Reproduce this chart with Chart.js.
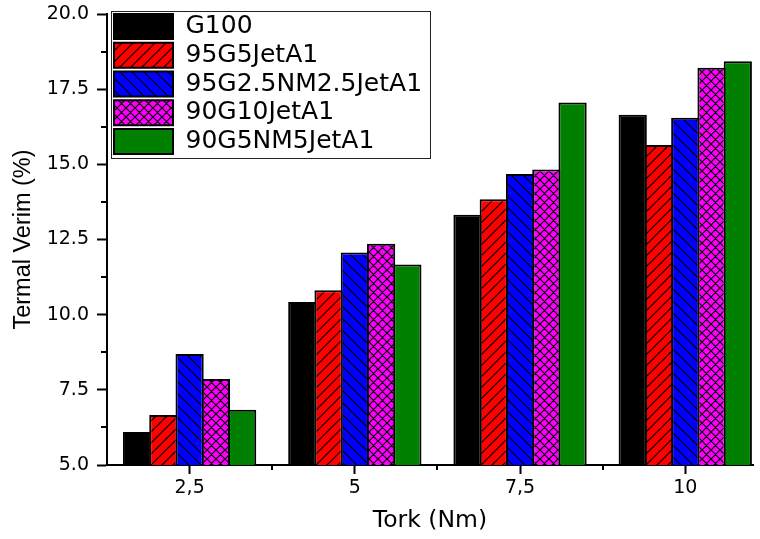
<!DOCTYPE html>
<html>
<head>
<meta charset="utf-8">
<script src="https://cdn.jsdelivr.net/npm/chart.js@4.4.0/dist/chart.umd.min.js"></script>
<style>
  html, body { margin: 0; padding: 0; background: #fff; }
  #wrap { width: 760px; height: 539px; position: relative; }
</style>
</head>
<body>
<div id="wrap"><canvas id="verimChart"></canvas></div>
<script>
// data
const torkLabels = ['2,5', '5', '7,5', '10'];
const seriesNames = ['G100', '95G5JetA1', '95G2.5NM2.5JetA1', '90G10JetA1', '90G5NM5JetA1'];
const g100 = [6.10, 10.42, 13.32, 16.65];
const g95jet = [6.66, 10.81, 13.84, 15.64];
const g95nm = [8.69, 12.07, 14.68, 16.55];
const g90jet = [7.86, 12.36, 14.83, 18.21];
const g90nm = [6.84, 11.67, 17.06, 18.43];
const yTicks = [5, 7.5, 10, 12.5, 15, 17.5, 20];

// hatch fills
function makePattern(bg, kind, size) {
    const c = document.createElement('canvas');
    c.width = size;
    c.height = size;
    const g = c.getContext('2d');
    g.fillStyle = bg;
    g.fillRect(0, 0, size, size);
    g.strokeStyle = '#000';
    g.lineWidth = 1.2;
    g.beginPath();
    if (kind === 'slash' || kind === 'cross') {
        g.moveTo(0, size); g.lineTo(size, 0);
        g.moveTo(-1, 1); g.lineTo(1, -1);
        g.moveTo(size - 1, size + 1); g.lineTo(size + 1, size - 1);
    }
    if (kind === 'back' || kind === 'cross') {
        g.moveTo(0, 0); g.lineTo(size, size);
        g.moveTo(size - 1, -1); g.lineTo(size + 1, 1);
        g.moveTo(-1, size - 1); g.lineTo(1, size + 1);
    }
    g.stroke();
    return g.createPattern(c, 'repeat');
}

const fills = [
    '#000000',
    makePattern('#ff0000', 'slash', 11),
    makePattern('#0000ff', 'back', 12),
    makePattern('#ff00ff', 'cross', 9),
    '#008000'
];
const values = [g100, g95jet, g95nm, g90jet, g90nm];

const datasets = seriesNames.map((name, k) => ({
    label: name,
    data: values[k].map((v, i) => ({ x: i + 1, y: v })),
    backgroundColor: fills[k],
    borderColor: '#000',
    borderWidth: 2,
    borderSkipped: false,
    categoryPercentage: 0.795,
    barPercentage: 1.075
}));

// minor ticks + legend frame
const extras = {
    id: 'extras',
    afterLayout(chart) {
        const lg = chart.legend;
        const w = lg.width, h = lg.height;
        lg.left = 110.25;
        lg.top = 10.25;
        lg.right = lg.left + w;
        lg.bottom = lg.top + h;
    },
    afterDraw(chart) {
        const { ctx, scales: { x, y } } = chart;
        ctx.save();
        ctx.strokeStyle = '#000';
        ctx.lineWidth = 2;
        ctx.beginPath();
        for (let i = 1; i < torkLabels.length; i++) {
            const px = Math.round(x.getPixelForValue(i + 0.5));
            ctx.moveTo(px, x.top);
            ctx.lineTo(px, x.top + 5);
        }
        for (let i = 0; i < yTicks.length - 1; i++) {
            const py = Math.round(y.getPixelForValue((yTicks[i] + yTicks[i + 1]) / 2));
            ctx.moveTo(y.right, py);
            ctx.lineTo(y.right - 6, py);
        }
        ctx.stroke();
        // legend frame
        ctx.strokeStyle = '#222';
        ctx.lineWidth = 1;
        ctx.strokeRect(111.5, 11.5, 319, 147);
        ctx.restore();
    }
};

const ctxVerim = document.getElementById('verimChart').getContext('2d');
new Chart(ctxVerim, {
    type: 'bar',
    data: { datasets: datasets },
    options: {
        responsive: true,
        maintainAspectRatio: false,
        animation: false,
        layout: { padding: { top: 14, right: 7, bottom: 0, left: 0 } },
        plugins: {
            tooltip: { enabled: false },
            legend: {
                position: 'chartArea',
                align: 'start',
                labels: {
                    boxWidth: 59,
                    boxHeight: 25,
                    padding: 3.75,
                    color: '#000',
                    font: { family: 'DejaVu Sans', size: 25 }
                }
            }
        },
        scales: {
            x: {
                type: 'linear',
                bounds: 'data',
                offset: false,
                min: 0.5,
                max: 4.41,
                afterBuildTicks: (axis) => {
                    axis.ticks = torkLabels.map((_, i) => ({ value: i + 1 }));
                },
                afterFit: (scale) => {
                    scale.height = 74;
                    scale.paddingLeft = 0;
                    scale.paddingRight = 0;
                },
                border: { display: true, color: '#000', width: 2 },
                grid: {
                    offset: false,
                    drawOnChartArea: false,
                    drawTicks: true,
                    tickLength: 9,
                    tickColor: '#000',
                    tickWidth: 2
                },
                ticks: {
                    color: '#000',
                    padding: 3,
                    font: { family: 'DejaVu Sans', size: 19 },
                    callback: (value, index) => torkLabels[index]
                },
                title: {
                    display: true,
                    text: 'Tork (Nm)',
                    color: '#000',
                    font: { family: 'DejaVu Sans', size: 23.5 },
                    padding: { top: 0, bottom: 4 }
                }
            },
            y: {
                min: yTicks[0],
                max: yTicks[yTicks.length - 1],
                afterFit: (scale) => {
                    scale.width = 107;
                    scale.paddingTop = 0;
                    scale.paddingBottom = 0;
                },
                border: { display: true, color: '#000', width: 2 },
                grid: {
                    drawOnChartArea: false,
                    drawTicks: true,
                    tickLength: 10,
                    tickColor: '#000',
                    tickWidth: 2
                },
                ticks: {
                    stepSize: yTicks[1] - yTicks[0],
                    color: '#000',
                    padding: 8,
                    font: { family: 'DejaVu Sans', size: 19 },
                    callback: (value) => value.toFixed(1)
                },
                title: {
                    display: true,
                    text: 'Termal Verim (%)',
                    color: '#000',
                    font: { family: 'Liberation Sans', size: 23.5 },
                    padding: { top: 9, bottom: 0 }
                }
            }
        }
    },
    plugins: [extras]
});
</script>
</body>
</html>
